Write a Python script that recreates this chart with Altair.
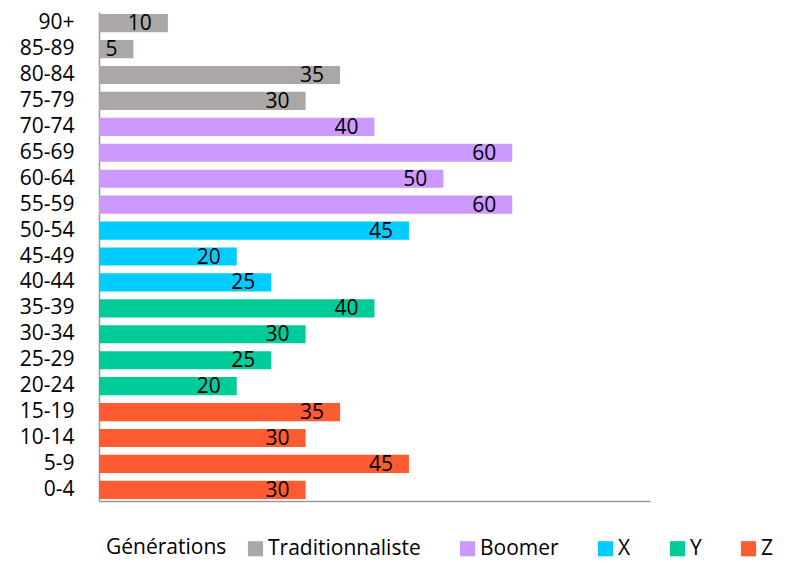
import altair as alt
import pandas as pd

ages = ["90+", "85-89", "80-84", "75-79", "70-74", "65-69", "60-64", "55-59",
        "50-54", "45-49", "40-44", "35-39", "30-34", "25-29", "20-24",
        "15-19", "10-14", "5-9", "0-4"]
values = [10, 5, 35, 30, 40, 60, 50, 60, 45, 20, 25, 40, 30, 25, 20, 35, 30, 45, 30]
gens = ["Traditionnaliste"] * 4 + ["Boomer"] * 4 + ["X"] * 3 + ["Y"] * 4 + ["Z"] * 4

gen_order = ["Traditionnaliste", "Boomer", "X", "Y", "Z"]
gen_colors = ["#ABA7A7", "#CC99FF", "#00CCFF", "#00CC99", "#FF5B33"]

df = pd.DataFrame({"age": ages, "value": values, "gen": gens})

FONT = "Open Sans"

base = alt.Chart(df).encode(
    y=alt.Y("age:N", sort=ages, title=None,
            scale=alt.Scale(paddingInner=0.3, paddingOuter=0.08),
            axis=alt.Axis(domainColor="#999999", domainWidth=1.5, ticks=False,
                          labelFontSize=21, labelFont=FONT, labelColor="#000000",
                          labelPadding=25)),
)

bars = base.mark_bar().encode(
    x=alt.X("value:Q", title=None, scale=alt.Scale(domain=[0, 80], nice=False),
            axis=alt.Axis(labels=False, ticks=False, grid=False,
                          domainColor="#999999", domainWidth=1.5)),
    color=alt.Color("gen:N", scale=alt.Scale(domain=gen_order, range=gen_colors),
                    legend=alt.Legend(title="Générations", orient="none",
                                      direction="horizontal", titleOrient="left",
                                      legendX=7, legendY=526, padding=0,
                                      titleFont=FONT, titleFontSize=21,
                                      titleFontWeight="normal", titleColor="#000000",
                                      labelFont=FONT, labelFontSize=21,
                                      labelColor="#000000",
                                      symbolType="square", symbolSize=230,
                                      symbolStrokeWidth=0, columnPadding=36,
                                      titlePadding=18, labelOffset=2)),
)

labels = base.mark_text(align="right", dx=-16, baseline="middle", dy=1,
                        font=FONT, fontSize=21, color="#000000").encode(
    x="value:Q", text="value:Q"
)

chart = (bars + labels).properties(
    width=551, height=489,
    autosize=alt.AutoSizeParams(type="none"),
    padding={"left": 91, "top": 4, "right": 133, "bottom": 60},
).configure_view(stroke=None)

chart.save("out.html", embed_options={"renderer": "svg", "actions": False})
